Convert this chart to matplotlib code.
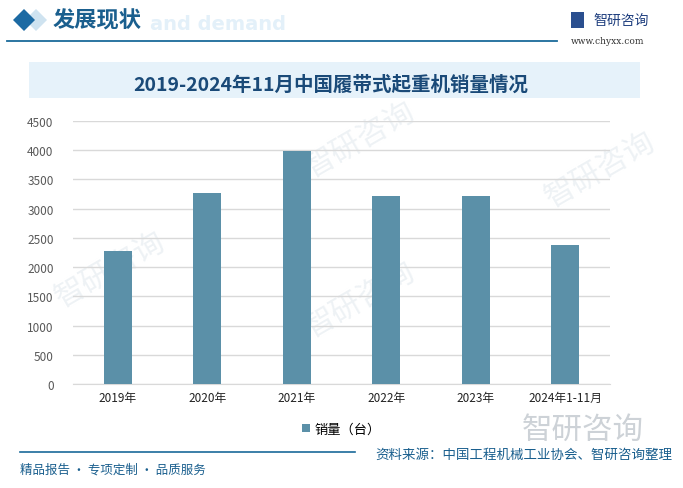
import matplotlib.pyplot as plt
from matplotlib.patches import Rectangle, Polygon
import numpy as np

plt.rcParams['font.family'] = ['Noto Sans CJK SC', 'DejaVu Sans']

categories = ["2019年", "2020年", "2021年", "2022年", "2023年", "2024年1-11月"]
sales = [2280, 3270, 3980, 3210, 3210, 2380]
yticks = [0, 500, 1000, 1500, 2000, 2500, 3000, 3500, 4000, 4500]

W, H = 683, 489
fig = plt.figure(figsize=(W / 100, H / 100), dpi=100)
fig.patch.set_facecolor("white")

def fx(px):
    return px / W

def fy(py):
    return 1 - py / H

dark = "#1a5f8e"

# faint watermarks, drawn below the axes
for (x, y) in [(110, 270), (360, 300), (600, 170), (360, 140)]:
    fig.text(fx(x), fy(y), "智研咨询", fontsize=22, color="#eef2f5", rotation=30,
             ha="center", va="center", zorder=-5)

# header
fig.patches.append(Polygon([[fx(36), fy(10)], [fx(47), fy(21)], [fx(36), fy(32)], [fx(25), fy(21)]],
                           closed=True, transform=fig.transFigure, facecolor="#cfe3f0", edgecolor="none"))
fig.patches.append(Polygon([[fx(24), fy(10)], [fx(35), fy(21)], [fx(24), fy(32)], [fx(13), fy(21)]],
                           closed=True, transform=fig.transFigure, facecolor="#1c6aa3", edgecolor="none"))
fig.text(fx(150), fy(25), "and demand", fontsize=14, fontweight="bold", color="#e3f0f9",
         ha="left", va="center", family="DejaVu Sans")
fig.text(fx(53), fy(21), "发展现状", fontsize=16, fontweight="bold", color=dark, ha="left", va="center")
fig.add_artist(plt.Line2D([fx(7), fx(557)], [fy(42), fy(42)], color="#1a6a9a", lw=1.3))
fig.patches.append(Rectangle((fx(571), fy(29)), fx(13), 16 / H, transform=fig.transFigure,
                             facecolor="#2a4f8f", edgecolor="none"))
fig.text(fx(593), fy(21), "智研咨询", fontsize=10, color="#1f3f7f", ha="left", va="center")
fig.text(fx(608), fy(41), "www.chyxx.com", fontsize=6.5, color="#333333", ha="center", va="center",
         family="DejaVu Serif")

# title banner
fig.patches.append(Rectangle((fx(29), fy(99)), fx(640) - fx(29), 36 / H, transform=fig.transFigure,
                             facecolor="#e6f2fa", edgecolor="none"))
fig.text(fx(331), fy(85), "2019-2024年11月中国履带式起重机销量情况", fontsize=14, fontweight="bold",
         color="#1a4a78", ha="center", va="center")

# chart
ax = fig.add_axes([fx(73), fy(385), fx(610) - fx(73), (385 - 122) / H])
ax.set_facecolor("none")
x = np.arange(len(categories))
ax.bar(x, sales, width=0.31, color="#5b90a8", zorder=3, label="销量（台）")
ax.set_xlim(-0.5, len(categories) - 0.5)
ax.set_ylim(0, 4500)
ax.set_yticks(yticks)
ax.set_yticklabels([str(v) for v in yticks], fontsize=8.5, color="#595959")
ax.set_xticks(x)
ax.set_xticklabels(categories, fontsize=8.5, color="#222222")
ax.grid(axis="y", color="#d9d9d9", lw=1, zorder=0)
for s in ["left", "right", "top"]:
    ax.spines[s].set_visible(False)
ax.spines["bottom"].set_color("#d9d9d9")
ax.tick_params(length=0, pad=5)
ax.tick_params(axis="y", pad=14)

leg = ax.legend(loc="center", bbox_to_anchor=(0.5, (385 - 430) / (385 - 122)), frameon=False,
                fontsize=9.5, handlelength=0.6, handleheight=0.6, handletextpad=0.3)

# footer
fig.text(fx(583), fy(430), "智研咨询", fontsize=22, color="#cdd2d7", ha="center", va="center", zorder=-5)
fig.add_artist(plt.Line2D([fx(20), fx(355)], [fy(453), fy(453)], color="#1a6a9a", lw=1.2))
fig.text(fx(672), fy(455), "资料来源：中国工程机械工业协会、智研咨询整理", fontsize=9.7, color=dark,
         ha="right", va="center")
fig.text(fx(20), fy(470), "精品报告 · 专项定制 · 品质服务", fontsize=9, color=dark, ha="left", va="center")

fig.savefig("out.png", dpi=100)
